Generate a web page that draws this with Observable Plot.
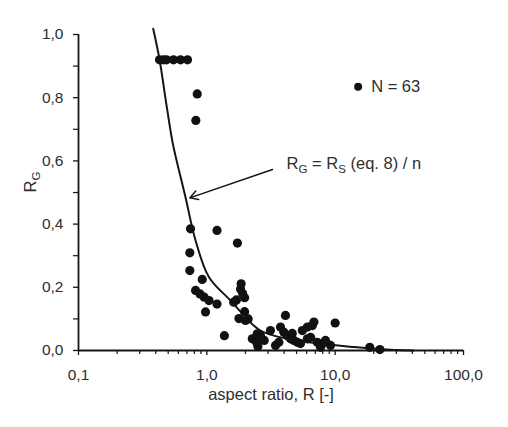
<!DOCTYPE html>
<html><head><meta charset="utf-8">
<script src="https://cdn.jsdelivr.net/npm/d3@7"></script>
<script src="https://cdn.jsdelivr.net/npm/@observablehq/plot@0.6"></script>
<style>body{margin:0;background:#fff} #chart{width:508px;height:427px}</style>
</head><body><div id="chart"></div>
<script>
// measured points (aspect ratio R, R_G)
const aspectRatio = [0.428,0.46,0.485,0.55,0.624,0.707,0.842,0.821,0.746,1.20,1.73,0.737,0.737,0.921,0.817,0.885,0.951,1.04,1.20,0.977,
  1.85,1.83,1.90,1.70,1.97,1.78,1.97,2.10,1.37,2.26,2.47,2.62,2.44,2.50,3.43,3.64,4.10,3.75,3.98,4.24,
  4.49,4.77,5.07,5.55,6.07,6.64,6.83,6.43,7.25,7.93,8.41,7.69,10.0,18.6,22.3,1.62,2.00,6.07,2.80,4.63,5.37,9.2,3.13];
const rgValues = [0.92,0.92,0.92,0.92,0.92,0.92,0.812,0.728,0.385,0.380,0.340,0.309,0.253,0.225,0.190,0.179,0.169,0.158,0.147,0.122,
  0.211,0.195,0.180,0.160,0.167,0.101,0.123,0.100,0.047,0.037,0.053,0.047,0.026,0.013,0.016,0.026,0.111,0.074,0.058,0.047,
  0.037,0.032,0.026,0.063,0.074,0.079,0.090,0.042,0.026,0.021,0.032,0.010,0.087,0.010,0.003,0.153,0.095,0.037,0.032,0.054,0.022,0.016,0.063];
// model curve
const curveR  = [0.382,0.428,0.479,0.537,0.573,0.682,0.817,1.04,1.53,2.32,2.62,3.33,5.37,7.7,11.0,13.1,22.6,40.8];
const curveRG = [1.018,0.921,0.791,0.665,0.612,0.485,0.348,0.232,0.158,0.079,0.063,0.047,0.030,0.022,0.015,0.012,0.004,0.0];

const xMajorTicks = [0.1, 1, 10, 100];
const xMinorTicks = [0.2,0.3,0.4,0.5,0.6,0.7,0.8,0.9,2,3,4,5,6,7,8,9,20,30,40,50,60,70,80,90];
const yMajorTicks = [0, 0.2, 0.4, 0.6, 0.8, 1.0];
const yMinorTicks = [0.1, 0.3, 0.5, 0.7, 0.9];

const legendLabel = "N = 63";
const curveLabel = "R_G = R_S (eq. 8) / n";
const xTitle = "aspect ratio, R [-]";
const yTitle = "R_G";

// annotation anchors, in data units
const legendAnchor = [{x: 15.1, y: 0.835}];
const labelAnchor = [{x: 4.18, y: 0.592}];
const arrowAnchor = [{x1: 3.25, y1: 0.573, x2: 0.737, y2: 0.483}];

const comma = d => d3.format(".1f")(d).replace(".", ",");
const ink = "#151515";
const textInk = "#2e2e2e";

const points = aspectRatio.map((r, i) => ({r, rg: rgValues[i]}));
const curve = curveR.map((r, i) => ({r, rg: curveRG[i]}));

const plot = Plot.plot({
  width: 508, height: 427,
  marginTop: 34, marginBottom: 77, marginLeft: 78, marginRight: 45,
  style: {fontFamily: "'Liberation Sans', Arial, sans-serif", background: "#fff", color: textInk},
  x: {type: "log", domain: [0.1, 100]},
  y: {domain: [0, 1]},
  marks: [
    Plot.axisX({ticks: xMinorTicks, tickFormat: () => "", tickSize: 4, stroke: ink, strokeWidth: 1.2, label: null}),
    Plot.axisX({ticks: xMajorTicks, tickFormat: comma, tickSize: 5, tickPadding: 13, fontSize: 15.5, fill: textInk, stroke: ink, strokeWidth: 1.3, label: null}),
    Plot.axisY({ticks: yMinorTicks, tickFormat: () => "", tickSize: 5, stroke: ink, strokeWidth: 1.2, label: null}),
    Plot.axisY({ticks: yMajorTicks, tickFormat: comma, tickSize: 5, tickPadding: 10, fontSize: 15.5, fill: textInk, stroke: ink, strokeWidth: 1.3, label: null}),
    Plot.ruleY([0], {stroke: ink, strokeWidth: 1.8}),
    Plot.ruleX([0.1], {y1: 0, y2: 1, stroke: ink, strokeWidth: 1.8}),
    Plot.line(curve, {x: "r", y: "rg", stroke: ink, strokeWidth: 2, curve: "catmull-rom"}),
    Plot.dot(points, {x: "r", y: "rg", r: 4.6, fill: "#111", stroke: "none"}),
    Plot.arrow(arrowAnchor, {x1: "x1", y1: "y1", x2: "x2", y2: "y2", stroke: ink, strokeWidth: 1.5, headLength: 9}),
    Plot.text(labelAnchor, {x: "x", y: "y", text: () => curveLabel, textAnchor: "start", fontSize: 16.5, fill: textInk}),
    Plot.dot(legendAnchor, {x: "x", y: "y", r: 4, fill: "#111"}),
    Plot.text(legendAnchor, {x: "x", y: "y", text: () => legendLabel, dx: 13, textAnchor: "start", fontSize: 16.5, fill: textInk}),
    Plot.text([xTitle], {text: d => d, frameAnchor: "bottom", dy: 49, fontSize: 16.5, fill: textInk}),
    Plot.text([yTitle], {text: d => d, frameAnchor: "left", dx: -48, rotate: -90, fontSize: 16.5, fill: textInk})
  ]
});

// turn "_X" markers into real subscripts
d3.select(plot).selectAll("text").each(function () {
  const t = this.textContent;
  if (!/_[A-Z]/.test(t)) return;
  const el = d3.select(this);
  el.text(null);
  const parts = t.split(/(_[A-Z])/).filter(s => s.length);
  let shifted = false;
  for (const p of parts) {
    if (p.startsWith("_")) {
      el.append("tspan").attr("font-size", "70%").attr("dy", 4).text(p.slice(1));
      shifted = true;
    } else {
      const ts = el.append("tspan").text(p);
      if (shifted) { ts.attr("dy", -4); shifted = false; }
    }
  }
});

document.getElementById("chart").appendChild(plot);
</script>
</body></html>
